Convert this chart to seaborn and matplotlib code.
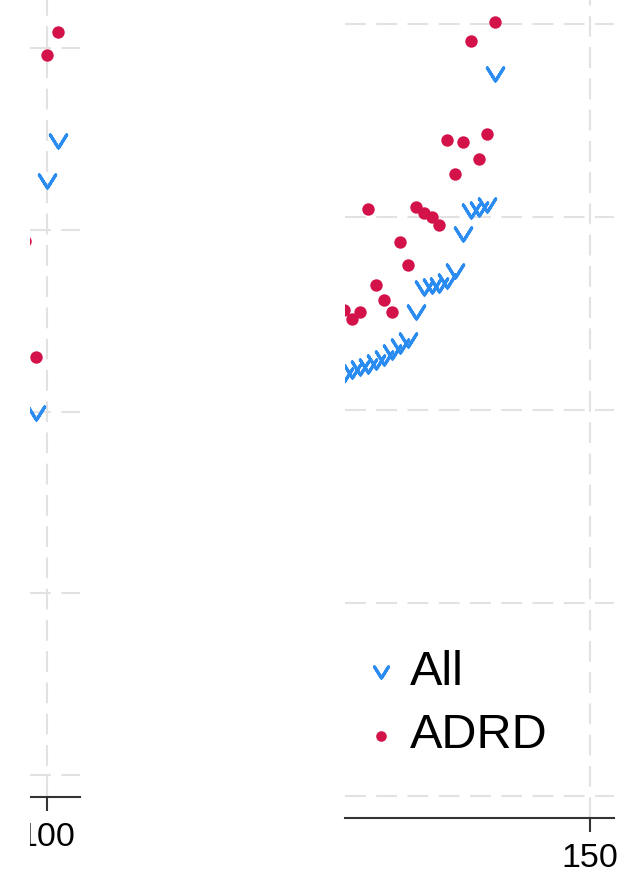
import matplotlib
matplotlib.use("Agg")
import matplotlib.pyplot as plt
import numpy as np
import pandas as pd
import seaborn as sns
from matplotlib.path import Path
from matplotlib.patches import Rectangle

sns.set_theme(style="ticks")
plt.rcParams["font.family"] = ["Liberation Sans", "DejaVu Sans"]
plt.rcParams["text.color"] = "black"

# ---- data -------------------------------------------------------------
# left panel (around x = 100)
left_x_all = [99, 100, 101]
left_all = [19.9, 32.7, 34.9]
left_x_adrd = [98, 99, 100, 101]
left_adrd = [29.4, 23.0, 39.6, 40.9]

# right panel (x up to 150)
right_x = list(range(119, 139))
right_all = [21.8, 22.0, 22.2, 22.3, 22.5, 22.7, 23.0, 23.3, 23.6, 25.1,
             26.3, 26.4, 26.5, 26.7, 27.2, 29.1, 30.3, 30.4, 30.6, 37.4]
right_adrd = [25.2, 24.7, 25.1, 30.4, 26.5, 25.7, 25.1, 28.7, 27.5, 30.5,
              30.2, 30.0, 29.6, 34.0, 32.2, 33.9, 39.1, 33.0, 34.3, 40.1]

series_labels = ["All", "ADRD"]
left_ticks = [100]
right_ticks = [150]
grid_levels = [0, 10, 20, 30, 40]

BLUE = "#2a8cf0"
RED = "#d4124a"

# open "v" marker: a zero-area path so only its stroke shows
v_marker = Path([(-1, 0.8), (0, -0.8), (1, 0.8), (0, -0.8), (-1, 0.8)],
                [Path.MOVETO, Path.LINETO, Path.LINETO, Path.LINETO, Path.CLOSEPOLY])

W, H = 624, 873
fig = plt.figure(figsize=(W / 100, H / 100), dpi=100)
axL = fig.add_axes([30 / W, 76 / H, 50 / W, 797 / H])
axR = fig.add_axes([345 / W, 55 / H, 269 / W, 818 / H])


def draw_panel(ax, xa, ya, xr, yr, labels):
    df_a = pd.DataFrame({"x": xa, "y": ya})
    df_r = pd.DataFrame({"x": xr, "y": yr})
    sns.scatterplot(data=df_a, x="x", y="y", ax=ax, marker=v_marker, s=140,
                    color=BLUE, edgecolor=BLUE, linewidth=2.2,
                    label=labels[0], zorder=3)
    sns.scatterplot(data=df_r, x="x", y="y", ax=ax, marker="o", s=80,
                    color=RED, edgecolor=RED, linewidth=0,
                    label=labels[1], zorder=3)


def style_panel(ax, xticks, xlim, ylim):
    ax.set_xlim(*xlim)
    ax.set_ylim(*ylim)
    ax.set_xticks(xticks)
    ax.set_xticklabels([str(t) for t in xticks])
    ax.set_yticks(grid_levels)
    ax.set_yticklabels([])
    ax.set_xlabel("")
    ax.set_ylabel("")
    ax.tick_params(axis="y", length=0, left=False)
    ax.tick_params(axis="x", bottom=True, length=10, width=1.5, color="#333333",
                   pad=8, labelsize=24.5, labelcolor="black", direction="out")
    for side in ["top", "right", "left"]:
        ax.spines[side].set_visible(False)
    ax.spines["bottom"].set_color("#333333")
    ax.spines["bottom"].set_linewidth(1.5)
    ax.grid(True, color="#e2e2e2", linestyle=(0, (10, 5)), linewidth=1.5)
    ax.set_axisbelow(True)
    ax.patch.set_alpha(0)


draw_panel(axL, left_x_all, left_all, left_x_adrd, left_adrd,
           ["_nolegend_", "_nolegend_"])
draw_panel(axR, right_x, right_all, right_x, right_adrd, series_labels)

style_panel(axL, left_ticks, (98.44, 103.03), (-1.21, 42.65))
style_panel(axR, right_ticks, (119.07, 153.03), (-1.14, 41.24))

if axL.get_legend() is not None:
    axL.get_legend().remove()
if axR.get_legend() is not None:
    axR.get_legend().remove()

handles, labels = axR.get_legend_handles_labels()
leg = axR.legend(handles, labels, loc="upper left",
                 bbox_to_anchor=(366 / W, 1 - 650 / H), bbox_transform=fig.transFigure,
                 frameon=False, fontsize=35, handlelength=0.6, handletextpad=0.3,
                 borderpad=0, borderaxespad=0, labelspacing=0.38, markerscale=0.85)
for t in leg.get_texts():
    t.set_color("black")

# white margin strip to the left of the first panel (trims its tick label)
fig.add_artist(Rectangle((0, 0), 30 / W, 1, transform=fig.transFigure,
                         facecolor="white", edgecolor="none", zorder=10))

fig.savefig("out.png", dpi=100)
